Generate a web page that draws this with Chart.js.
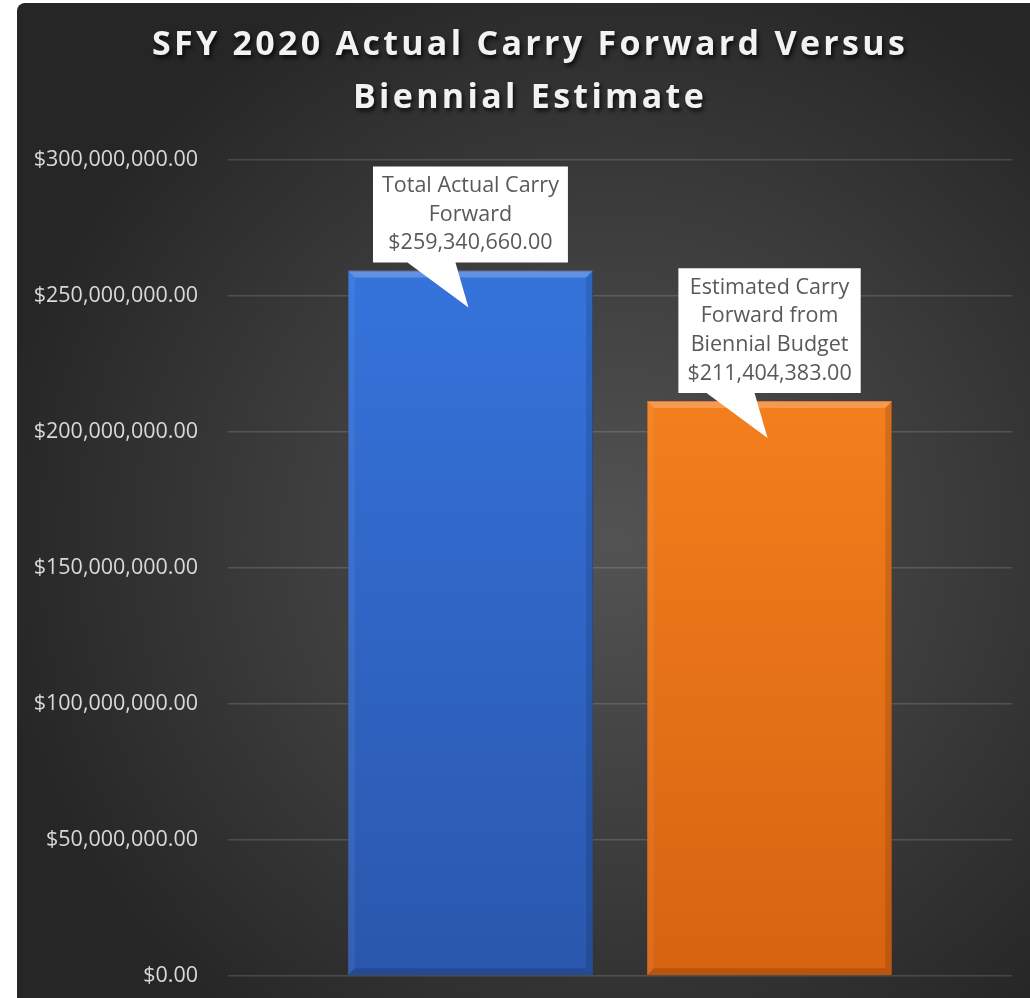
<!DOCTYPE html>
<html>
<head>
<meta charset="utf-8">
<script src="https://cdn.jsdelivr.net/npm/chart.js@4.4.1/dist/chart.umd.min.js"></script>
<style>
  html, body { margin: 0; padding: 0; background: #ffffff; }
  #wrap {
    position: absolute; left: 17px; top: 3px; width: 1013px; height: 995px;
    border-top-left-radius: 8px; overflow: hidden;
    background: radial-gradient(ellipse 62% 62% at 59% 54%, #535353 0%, #3b3b3b 55%, #262626 100%);
  }
  canvas { display: block; }
</style>
</head>
<body>
<div id="wrap"><canvas id="chart" width="1013" height="995"></canvas></div>
<script>
const categories = ['SFY 2020'];
const seriesNames = ['Total Actual Carry Forward', 'Estimated Carry Forward from Biennial Budget'];
const actualValues = [259340660.00];
const estimateValues = [211404383.00];
const calloutLines = [
  ['Total Actual Carry', 'Forward'],
  ['Estimated Carry', 'Forward from', 'Biennial Budget']
];
const titleLines = ['SFY 2020 Actual Carry Forward Versus', 'Biennial Estimate'];
const yMin = 0, yMax = 300000000, yStep = 50000000;

const money = v => '$' + Number(v).toLocaleString('en-US', { minimumFractionDigits: 2, maximumFractionDigits: 2 });

function barGradient(top, bottom) {
  return (c) => {
    const area = c.chart.chartArea;
    if (!area) return top;
    const g = c.chart.ctx.createLinearGradient(0, area.top, 0, area.bottom);
    g.addColorStop(0, top);
    g.addColorStop(1, bottom);
    return g;
  };
}

const titlePlugin = {
  id: 'bigTitle',
  afterDraw(chart) {
    const ctx = chart.ctx;
    ctx.save();
    ctx.font = 'bold 34px "Open Sans"';
    ctx.letterSpacing = '3.3px';
    ctx.textAlign = 'center';
    ctx.textBaseline = 'alphabetic';
    ctx.shadowColor = 'rgba(0,0,0,0.75)';
    ctx.shadowOffsetX = 2;
    ctx.shadowOffsetY = 3;
    ctx.shadowBlur = 4;
    ctx.fillStyle = '#f2f2f2';
    ctx.fillText(titleLines[0], 513, 52);
    ctx.fillText(titleLines[1], 513, 105);
    ctx.restore();
  }
};

// soft bevel on the bar edges, then the white callouts
const calloutPlugin = {
  id: 'callouts',
  afterDatasetsDraw(chart) {
    const ctx = chart.ctx;
    ctx.save();
    chart.data.datasets.forEach((ds, i) => {
      const bar = chart.getDatasetMeta(i).data[0];
      if (!bar) return;
      const l = bar.x - bar.width / 2, r = bar.x + bar.width / 2, t = bar.y, b = bar.base, e = 7;
      const quad = (pts, col) => {
        ctx.beginPath();
        ctx.moveTo(pts[0], pts[1]);
        for (let k = 2; k < pts.length; k += 2) ctx.lineTo(pts[k], pts[k + 1]);
        ctx.closePath();
        ctx.fillStyle = col;
        ctx.fill();
      };
      quad([l, t, r, t, r - e, t + e, l + e, t + e], 'rgba(255,255,255,0.22)');
      quad([l, t, l + e, t + e, l + e, b - e, l, b], 'rgba(255,255,255,0.06)');
      quad([r, t, r - e, t + e, r - e, b - e, r, b], 'rgba(0,0,0,0.12)');
      quad([l, b, l + e, b - e, r - e, b - e, r, b], 'rgba(0,0,0,0.15)');
    });

    ctx.font = '21.5px "Open Sans"';
    chart.data.datasets.forEach((ds, i) => {
      const bar = chart.getDatasetMeta(i).data[0];
      if (!bar) return;
      const lines = calloutLines[i].concat([money(ds.data[0])]);
      const cx = bar.x, top = bar.y;
      const lineH = 28.7;
      const w = Math.max(...lines.map(l => ctx.measureText(l).width)) + 18;
      const h = lines.length * lineH + 10;
      const bottom = top - 8;
      const left = cx - w / 2, right = cx + w / 2, boxTop = bottom - h;
      ctx.beginPath();
      ctx.moveTo(left, boxTop);
      ctx.lineTo(right, boxTop);
      ctx.lineTo(right, bottom);
      ctx.lineTo(cx - 15, bottom);
      ctx.lineTo(cx - 2, top + 37);
      ctx.lineTo(cx - 63, bottom);
      ctx.lineTo(left, bottom);
      ctx.closePath();
      ctx.fillStyle = '#ffffff';
      ctx.fill();
      ctx.fillStyle = '#595959';
      ctx.textAlign = 'center';
      ctx.textBaseline = 'middle';
      lines.forEach((l, k) => ctx.fillText(l, cx, boxTop + 5 + lineH * (k + 0.5)));
    });
    ctx.restore();
  }
};

new Chart(document.getElementById('chart'), {
  type: 'bar',
  data: {
    labels: categories,
    datasets: [
      {
        label: seriesNames[0],
        data: actualValues,
        backgroundColor: barGradient('#3778e3', '#2a57ad'),
        borderColor: '#2a55a5',
        borderWidth: 1
      },
      {
        label: seriesNames[1],
        data: estimateValues,
        backgroundColor: barGradient('#ff8a22', '#d76311'),
        borderColor: '#c45a12',
        borderWidth: 1
      }
    ]
  },
  options: {
    responsive: false,
    animation: false,
    categoryPercentage: 0.763,
    barPercentage: 0.82,
    layout: { padding: { top: 157, right: 18, bottom: 22, left: 0 } },
    plugins: {
      legend: { display: false },
      tooltip: { enabled: false }
    },
    scales: {
      x: { display: false },
      y: {
        min: yMin,
        max: yMax,
        border: { display: false },
        grid: { color: 'rgba(255,255,255,0.14)', lineWidth: 1.5, drawTicks: false },
        ticks: {
          stepSize: yStep,
          padding: 30,
          color: '#d9d9d9',
          font: { family: '"Open Sans"', size: 21.5 },
          callback: v => money(v)
        },
        afterFit(scale) {
          scale.width = 211;
          scale.paddingTop = 0;
          scale.paddingBottom = 0;
        }
      }
    }
  },
  plugins: [titlePlugin, calloutPlugin]
});
</script>
</body>
</html>
